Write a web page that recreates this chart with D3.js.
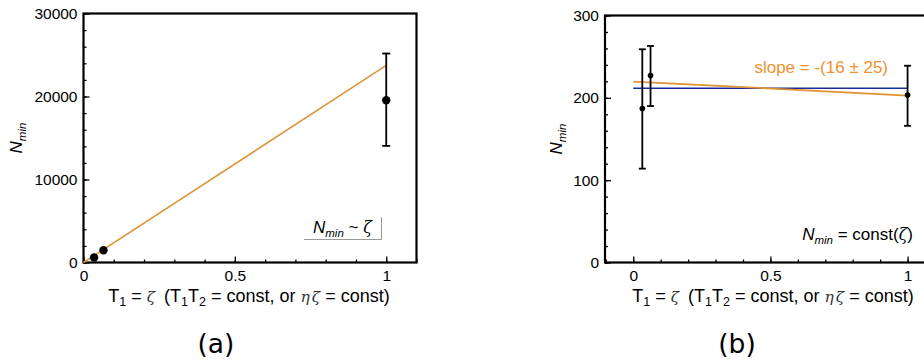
<!DOCTYPE html>
<html>
<head>
<meta charset="utf-8">
<script src="https://cdn.jsdelivr.net/npm/d3@7"></script>
<style>
  body { margin: 0; background: #fff; }
  text { font-family: "Liberation Sans", Arial, sans-serif; }
</style>
</head>
<body>
<svg id="chart" width="924" height="363"></svg>
<script>
// panel (a)
var aX = [0.035, 0.066, 1];
var aY = [600, 1480, 19550];
var aErrLo = [600, 1480, 14050];
var aErrHi = [600, 1480, 25180];
var aFit = [[0, 0], [1, 23750]];
var aYTicks = [0, 10000, 20000, 30000];
var aXTicks = [0, 0.5, 1];

// panel (b)
var bX = [0.033, 0.063, 1];
var bY = [187, 227, 203.5];
var bErrLo = [114, 190, 166];
var bErrHi = [259, 263, 239];
var bFit = [[0, 219.8], [1, 202.8]];
var bConst = [[0, 211.7], [1, 211.7]];
var bYTicks = [0, 100, 200, 300];
var bXTicks = [0, 0.5, 1];

var orange = "#e0922f";
var svg = d3.select("#chart");

function panel(opt) {
	var g = svg.append("g");
	var x = d3.scaleLinear().domain(opt.xDomain).range([opt.left, opt.right]);
	var y = d3.scaleLinear().domain(opt.yDomain).range([opt.bottom, opt.top]);

	// minor ticks
	g.append("g").attr("transform", "translate(0," + opt.bottom + ")")
		.call(d3.axisBottom(x).tickValues(d3.range(-0.1, 1.11, 0.1).map(function(v) { return +v.toFixed(2); })
			.filter(function(v) { return v >= opt.xDomain[0] - 1e-9 && v <= opt.xDomain[1] + 1e-9; }))
			.tickSize(-3).tickFormat(""))
		.call(function(s) { s.select(".domain").remove(); });
	g.append("g").attr("transform", "translate(" + opt.left + ",0)")
		.call(d3.axisLeft(y).tickValues(d3.range(opt.yDomain[0], opt.yDomain[1] + 1e-9, opt.yMinor)).tickSize(-3).tickFormat(""))
		.call(function(s) { s.select(".domain").remove(); });

	// major ticks with labels
	var xa = g.append("g").attr("transform", "translate(0," + opt.bottom + ")")
		.call(d3.axisBottom(x).tickValues(opt.xTicks).tickSize(-6).tickPadding(7).tickFormat(d3.format("")));
	var ya = g.append("g").attr("transform", "translate(" + opt.left + ",0)")
		.call(d3.axisLeft(y).tickValues(opt.yTicks).tickSize(-6).tickPadding(6).tickFormat(d3.format("")));
	[xa, ya].forEach(function(a) {
		a.select(".domain").remove();
		a.selectAll("text").attr("font-size", 15.5).attr("fill", "#000").style("font-family", "Liberation Sans, Arial, sans-serif");
	});
	g.selectAll(".tick line").attr("stroke", "#000").attr("stroke-width", 1.3);

	// frame
	g.append("rect")
		.attr("x", opt.left).attr("y", opt.top)
		.attr("width", opt.right - opt.left).attr("height", opt.bottom - opt.top)
		.attr("fill", "none").attr("stroke", "#000").attr("stroke-width", 2.2);

	// y label
	var yl = g.append("text")
		.attr("transform", "translate(" + opt.yLabelX + "," + ((opt.top + opt.bottom) / 2) + ") rotate(-90)")
		.attr("text-anchor", "middle").attr("font-size", 17).attr("font-style", "italic");
	yl.append("tspan").text("N");
	yl.append("tspan").attr("font-size", 11.5).attr("dy", 4).text("min");

	// x label
	var xl = g.append("text")
		.attr("x", opt.xLabelX).attr("y", opt.bottom + 39.5)
		.attr("text-anchor", "middle").attr("font-size", 18);
	xl.append("tspan").text("T");
	xl.append("tspan").attr("font-size", 12.5).attr("dy", 4).text("1");
	xl.append("tspan").attr("dy", -4).text(" = ");
	xl.append("tspan").attr("font-style", "italic").style("font-family", "DejaVu Serif, serif").attr("font-size", 15.5).attr("fill", "#333").text("ζ");
	xl.append("tspan").attr("dx", 4).text(" (T");
	xl.append("tspan").attr("font-size", 12.5).attr("dy", 4).text("1");
	xl.append("tspan").attr("dy", -4).text("T");
	xl.append("tspan").attr("font-size", 12.5).attr("dy", 4).text("2");
	xl.append("tspan").attr("dy", -4).text(" = const, or ");
	xl.append("tspan").attr("font-style", "italic").style("font-family", "DejaVu Serif, serif").attr("font-size", 15.5).attr("fill", "#333").text("η");
	xl.append("tspan").attr("dx", 2).attr("font-style", "italic").style("font-family", "DejaVu Serif, serif").attr("font-size", 15.5).attr("fill", "#333").text("ζ");
	xl.append("tspan").text(" = const)");

	// panel letter
	g.append("text")
		.attr("x", opt.letterX).attr("y", 353)
		.attr("text-anchor", "middle").attr("font-size", 26.5)
		.style("font-family", "DejaVu Sans, sans-serif")
		.text(opt.letter);

	return {g: g, x: x, y: y};
}

function errorBars(p, xs, ys, lo, hi, r, cap) {
	var pts = xs.map(function(v, i) { return {x: v, y: ys[i], lo: lo[i], hi: hi[i]}; });
	var eb = p.g.append("g").selectAll("g").data(pts.filter(function(d) { return d.hi > d.lo; })).enter().append("g");
	eb.append("line")
		.attr("x1", function(d) { return p.x(d.x); }).attr("x2", function(d) { return p.x(d.x); })
		.attr("y1", function(d) { return p.y(d.lo); }).attr("y2", function(d) { return p.y(d.hi); })
		.attr("stroke", "#000").attr("stroke-width", 1.8);
	["lo", "hi"].forEach(function(k) {
		eb.append("line")
			.attr("x1", function(d) { return p.x(d.x) - cap; }).attr("x2", function(d) { return p.x(d.x) + cap; })
			.attr("y1", function(d) { return p.y(d[k]); }).attr("y2", function(d) { return p.y(d[k]); })
			.attr("stroke", "#000").attr("stroke-width", 1.8);
	});
	p.g.append("g").selectAll("circle").data(pts).enter().append("circle")
		.attr("cx", function(d) { return p.x(d.x); })
		.attr("cy", function(d) { return p.y(d.y); })
		.attr("r", r).attr("fill", "#000");
}

var line = function(p) {
	return d3.line().x(function(d) { return p.x(d[0]); }).y(function(d) { return p.y(d[1]); });
};

// ---- (a)
var pa = panel({
	left: 83.5, right: 416.5, top: 13.5, bottom: 262.5,
	xDomain: [0, 1.1], yDomain: [0, 30000], yMinor: 2000,
	xTicks: aXTicks, yTicks: aYTicks,
	yLabelX: 22, xLabelX: 249, letterX: 216, letter: "(a)"
});
pa.g.append("path").datum(aFit).attr("d", line(pa))
	.attr("fill", "none").attr("stroke", "#d9963a").attr("stroke-width", 1.6);
errorBars(pa, aX, aY, aErrLo, aErrHi, 4.2, 4);

// legend (a)
var lg = pa.g.append("text").attr("x", 313).attr("y", 233).attr("font-size", 17);
lg.append("tspan").attr("font-style", "italic").text("N");
lg.append("tspan").attr("font-style", "italic").attr("font-size", 11.5).attr("dy", 4).text("min");
lg.append("tspan").attr("dy", -4).text(" ~ ");
lg.append("tspan").attr("font-style", "italic").style("font-family", "DejaVu Serif, serif").attr("font-size", 16).text("ζ");
pa.g.append("path").attr("d", "M304,239.5H381.5V217")
	.attr("fill", "none").attr("stroke", "#999").attr("stroke-width", 1);

// ---- (b)
var pb = panel({
	left: 605, right: 935, top: 15.5, bottom: 262.5,
	xDomain: [-0.103, 1.1], yDomain: [0, 300], yMinor: 20,
	xTicks: bXTicks, yTicks: bYTicks,
	yLabelX: 562, xLabelX: 773, letterX: 737, letter: "(b)"
});
pb.g.append("path").datum(bConst).attr("d", line(pb))
	.attr("fill", "none").attr("stroke", "#1a2a9a").attr("stroke-width", 1.5);
pb.g.append("path").datum(bFit).attr("d", line(pb))
	.attr("fill", "none").attr("stroke", orange).attr("stroke-width", 1.8);
errorBars(pb, bX, bY, bErrLo, bErrHi, 2.8, 3.5);

pb.g.append("text").attr("x", 888).attr("y", 73).attr("text-anchor", "end")
	.attr("font-size", 17).attr("fill", "#f0922b").text("slope = -(16 ± 25)");

var lb = pb.g.append("text").attr("x", 913).attr("y", 240).attr("text-anchor", "end").attr("font-size", 17);
lb.append("tspan").attr("font-style", "italic").text("N");
lb.append("tspan").attr("font-style", "italic").attr("font-size", 11.5).attr("dy", 4).text("min");
lb.append("tspan").attr("dy", -4).text(" = const(");
lb.append("tspan").attr("font-style", "italic").style("font-family", "DejaVu Serif, serif").attr("font-size", 16).text("ζ");
lb.append("tspan").text(")");
</script>
</body>
</html>
